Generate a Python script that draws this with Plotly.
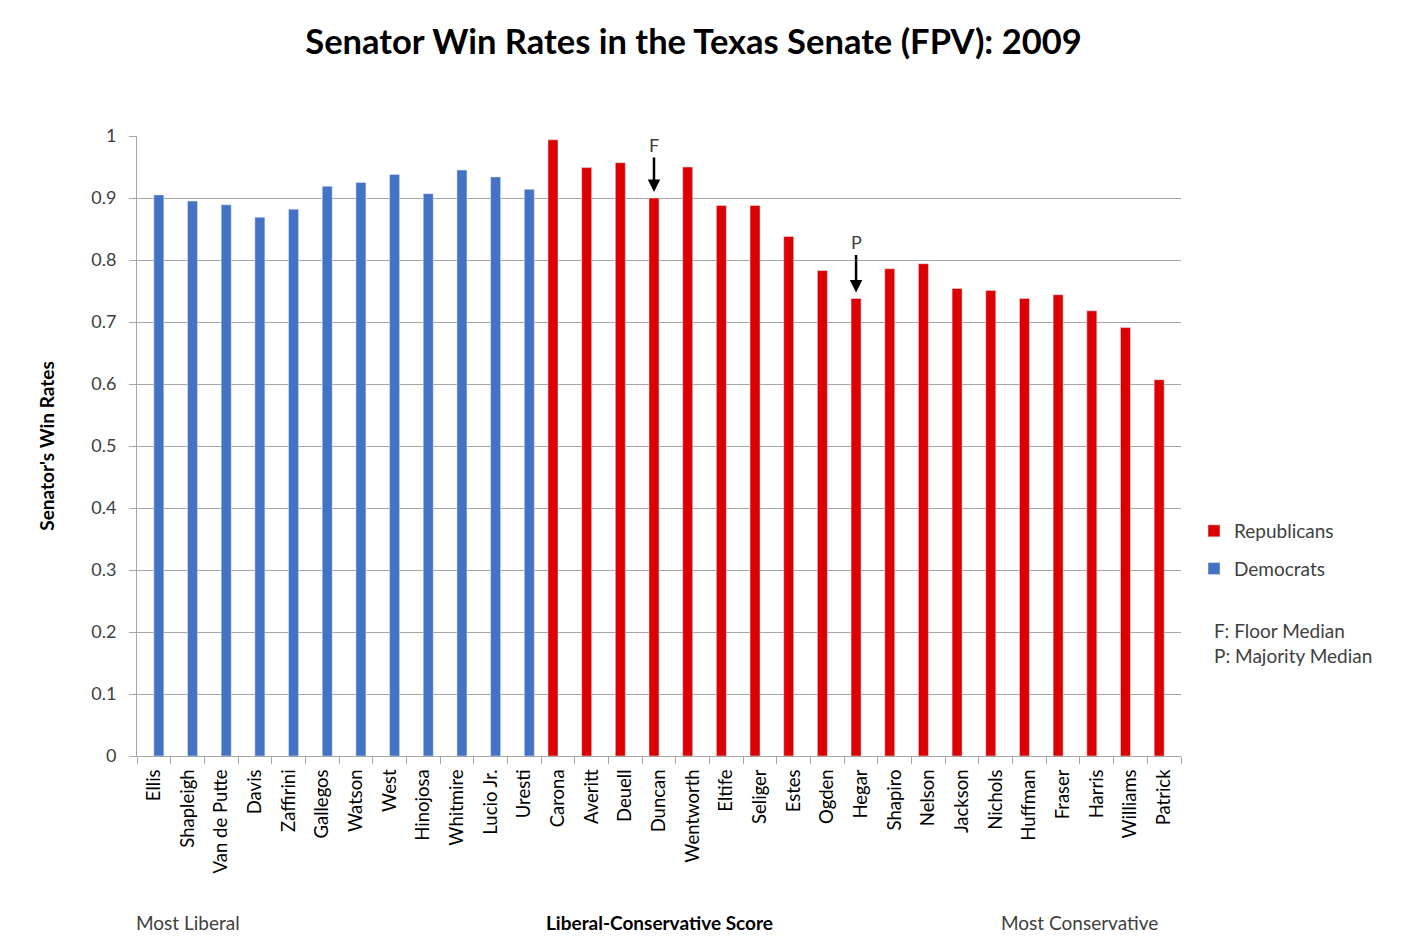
import plotly.graph_objects as go

senators = ["Ellis", "Shapleigh", "Van de Putte", "Davis", "Zaffirini", "Gallegos", "Watson",
            "West", "Hinojosa", "Whitmire", "Lucio Jr.", "Uresti",
            "Carona", "Averitt", "Deuell", "Duncan", "Wentworth", "Eltife", "Seliger", "Estes",
            "Ogden", "Hegar", "Shapiro", "Nelson", "Jackson", "Nichols", "Huffman", "Fraser",
            "Harris", "Williams", "Patrick"]

dem_names = senators[:12]
dem_rates = [0.905, 0.895, 0.889, 0.869, 0.882, 0.919, 0.925, 0.938, 0.907, 0.945, 0.934, 0.914]

rep_names = senators[12:]
rep_rates = [0.994, 0.949, 0.957, 0.900, 0.950, 0.888, 0.888, 0.838, 0.783, 0.738, 0.786,
             0.794, 0.754, 0.751, 0.738, 0.744, 0.718, 0.691, 0.607]

y_ticks = [0, 0.1, 0.2, 0.3, 0.4, 0.5, 0.6, 0.7, 0.8, 0.9, 1]
y_tick_labels = ["0", "0.1", "0.2", "0.3", "0.4", "0.5", "0.6", "0.7", "0.8", "0.9", "1"]

FONT = "Lato"
BLUE = "#4472C4"
RED = "#DD0000"
GREY = "#A6A6A6"
TXT = "#404040"

# Excel-style clustered layout: Republicans in the left slot, Democrats in the right slot
BAR_W = 0.297
REP_OFFSET = -BAR_W
DEM_OFFSET = 0.0

# page body margin offset
OFF = 8
L, R, T, B = 137 - OFF, 246, 136 - OFF, 191
PW, PH = 1044, 620
W, H = L + PW + R, T + PH + B

def px_x(p):  # screen x -> paper
    return (p - OFF - L) / PW

def px_y(p):  # screen y -> paper
    return (T + PH - (p - OFF)) / PH

fig = go.Figure()
fig.add_trace(go.Bar(x=rep_names, y=rep_rates, name="Republicans", marker_color=RED,
                     width=BAR_W, offset=REP_OFFSET, legendgroup="r"))
fig.add_trace(go.Bar(x=dem_names, y=dem_rates, name="Democrats", marker_color=BLUE,
                     width=BAR_W, offset=DEM_OFFSET, legendgroup="d"))

fig.update_layout(
    width=W, height=H,
    margin=dict(l=L, r=R, t=T, b=B),
    paper_bgcolor="white", plot_bgcolor="white",
    font=dict(family=FONT, size=19, color=TXT),
    barmode="overlay",
    title=dict(text="<b>Senator Win Rates in the Texas Senate (FPV): 2009</b>",
               x=(693.5 - OFF) / W, xanchor="center", y=1 - (42 - OFF) / H, yanchor="middle",
               font=dict(family=FONT, size=34.5, color="black")),
    showlegend=True,
    legend=dict(x=(1194 - OFF - L) / PW, y=px_y(512), xanchor="left", yanchor="top",
                font=dict(family=FONT, size=19, color=TXT),
                tracegroupgap=10, bgcolor="rgba(0,0,0,0)"),
    xaxis=dict(categoryorder="array", categoryarray=senators, tickangle=-90,
               tickson="boundaries", ticks="outside", ticklen=7, tickcolor=GREY,
               showline=True, linecolor=GREY, linewidth=1, showgrid=False,
               ticklabelstandoff=5,
               tickfont=dict(family=FONT, size=18.5, color="black"),
               range=[-0.5, len(senators) - 0.5]),
    yaxis=dict(range=[0, 1], tickvals=y_ticks, ticktext=y_tick_labels,
               showgrid=True, gridcolor=GREY, gridwidth=1,
               showline=True, linecolor=GREY, ticks="outside", ticklen=7,
               tickcolor=GREY, zeroline=False, ticklabelstandoff=9,
               tickfont=dict(family=FONT, size=18, color=TXT),
               title=dict(text="<b>Senator's Win Rates</b>", standoff=31,
                          font=dict(family=FONT, size=19, color="black"))),
)

annotations = [
    dict(x=senators.index("Duncan") + REP_OFFSET / 2, y=rep_rates[rep_names.index("Duncan")],
         xref="x", yref="y",
         text="F", showarrow=True, arrowhead=2, arrowsize=1, arrowwidth=2.5,
         arrowcolor="black", ax=0, ay=-53, standoff=6,
         font=dict(family=FONT, size=18, color=TXT)),
    dict(x=senators.index("Hegar") + REP_OFFSET / 2, y=rep_rates[rep_names.index("Hegar")],
         xref="x", yref="y",
         text="P", showarrow=True, arrowhead=2, arrowsize=1, arrowwidth=2.5,
         arrowcolor="black", ax=0, ay=-56, standoff=6,
         font=dict(family=FONT, size=18, color=TXT)),
    dict(x=px_x(1212), y=px_y(630), xref="paper", yref="paper", xanchor="left",
         yanchor="middle", showarrow=False, text="F: Floor Median",
         font=dict(family=FONT, size=19, color=TXT)),
    dict(x=px_x(1212), y=px_y(655), xref="paper", yref="paper", xanchor="left",
         yanchor="middle", showarrow=False, text="P: Majority Median",
         font=dict(family=FONT, size=19, color=TXT)),
    dict(x=px_x(134), y=px_y(922), xref="paper", yref="paper", xanchor="left",
         yanchor="middle", showarrow=False, text="Most Liberal",
         font=dict(family=FONT, size=19, color=TXT)),
    dict(x=px_x(659), y=px_y(922), xref="paper", yref="paper", xanchor="center",
         yanchor="middle", showarrow=False, text="<b>Liberal-Conservative Score</b>",
         font=dict(family=FONT, size=19, color="black")),
    dict(x=px_x(1160), y=px_y(922), xref="paper", yref="paper", xanchor="right",
         yanchor="middle", showarrow=False, text="Most Conservative",
         font=dict(family=FONT, size=19, color=TXT)),
]
fig.update_layout(annotations=annotations)

fig.write_html("out.html")
